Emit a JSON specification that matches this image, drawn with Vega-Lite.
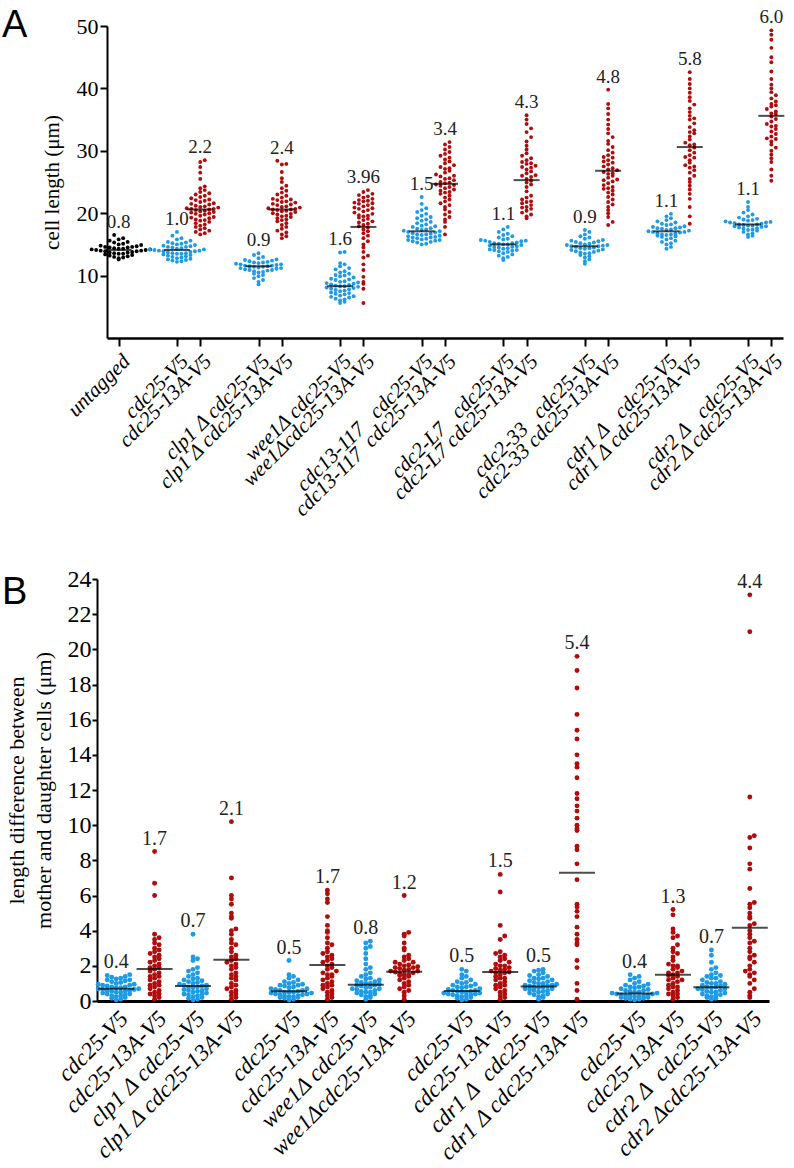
{
"$schema": "https://vega.github.io/schema/vega-lite/v6.json",
"background": "white",
"autosize": {"type": "pad"},
"padding": {"left": 2, "top": 7, "right": 5, "bottom": 5},
"spacing": 241,
"bounds": "flush",
"config": {
  "view": {"stroke": null},
  "circle": {"opacity": 1},
  "axis": {"grid": false, "domainColor": "#000", "tickColor": "#000", "labelColor": "#000", "titleColor": "#000", "labelFont": "Liberation Serif", "titleFont": "Liberation Serif", "titleFontWeight": "normal", "labelOverlap": false, "labelLimit": 500}
},
"datasets": {
  "medA": [
    {"g":"a00","data":14.1},{"g":"a01","data":14.1},{"g":"a02","data":20.6},{"g":"a03","data":11.5},{"g":"a04","data":20.6},{"g":"a05","data":8.3},{"g":"a06","data":17.8},{"g":"a07","data":17.1},{"g":"a08","data":24.7},{"g":"a09","data":15.0},{"g":"a10","data":25.3},{"g":"a11","data":14.7},{"g":"a12","data":26.8},{"g":"a13","data":17.1},{"g":"a14","data":30.6},{"g":"a15","data":18.2},{"g":"a16","data":35.6}
  ],
  "labA": [
    {"g":"a00","r":"0.8","data":16.5},{"g":"a01","r":"1.0","data":17.0},{"g":"a02","r":"2.2","data":28.5},{"g":"a03","r":"0.9","data":13.6},{"g":"a04","r":"2.4","data":28.4},{"g":"a05","r":"1.6","data":13.8},{"g":"a06","r":"3.96","data":23.7},{"g":"a07","r":"1.5","data":22.6},{"g":"a08","r":"3.4","data":31.4},{"g":"a09","r":"1.1","data":17.8},{"g":"a10","r":"4.3","data":35.7},{"g":"a11","r":"0.9","data":17.3},{"g":"a12","r":"4.8","data":39.8},{"g":"a13","r":"1.1","data":19.9},{"g":"a14","r":"5.8","data":42.6},{"g":"a15","r":"1.1","data":21.8},{"g":"a16","r":"6.0","data":49.3}
  ],
  "medB": [
    {"g":"b00","data":0.7},{"g":"b01","data":1.82},{"g":"b02","data":0.85},{"g":"b03","data":2.35},{"g":"b04","data":0.55},{"g":"b05","data":2.05},{"g":"b06","data":0.93},{"g":"b07","data":1.67},{"g":"b08","data":0.57},{"g":"b09","data":1.65},{"g":"b10","data":0.82},{"g":"b11","data":7.3},{"g":"b12","data":0.42},{"g":"b13","data":1.5},{"g":"b14","data":0.78},{"g":"b15","data":4.17}
  ],
  "labB": [
    {"g":"b00","r":"0.4","data":1.5},{"g":"b01","r":"1.7","data":8.5},{"g":"b02","r":"0.7","data":3.8},{"g":"b03","r":"2.1","data":10.2},{"g":"b04","r":"0.5","data":2.3},{"g":"b05","r":"1.7","data":6.3},{"g":"b06","r":"0.8","data":3.4},{"g":"b07","r":"1.2","data":6.0},{"g":"b08","r":"0.5","data":1.8},{"g":"b09","r":"1.5","data":7.2},{"g":"b10","r":"0.5","data":1.8},{"g":"b11","r":"5.4","data":19.6},{"g":"b12","r":"0.4","data":1.5},{"g":"b13","r":"1.3","data":5.2},{"g":"b14","r":"0.7","data":2.9},{"g":"b15","r":"4.4","data":23.1}
  ]
},
"vconcat": [
{
  "width": 686, "height": 312,
  "title": {"text": "A", "anchor": "start", "frame": "group", "dx": -95, "dy": 67, "offset": 0, "baseline": "alphabetic", "font": "Liberation Sans", "fontSize": 38, "fontWeight": "normal", "color": "#000"},
  "encoding": {
    "x": {"field": "g", "type": "nominal",
      "scale": {"type": "point", "range": [10, 686], "padding": 1.42,
        "domain": ["a00","x1","x2","x3","x4","a01","x5","a02","x6","x7","x8","x9","a03","x10","a04","x11","x12","x13","x14","a05","x15","a06","x16","x17","x18","x19","a07","x20","a08","x21","x22","x23","x24","a09","x25","a10","x26","x27","x28","x29","a11","x30","a12","x31","x32","x33","x34","a13","x35","a14","x36","x37","x38","x39","a15","x40","a16"]},
      "axis": {"title": null, "values": ["a00","a01","a02","a03","a04","a05","a06","a07","a08","a09","a10","a11","a12","a13","a14","a15","a16"],
        "labelExpr": "['untagged','cdc25-V5','cdc25-13A-V5','clp1 Δ cdc25-V5','clp1 Δ cdc25-13A-V5','wee1Δ cdc25-V5','wee1Δcdc25-13A-V5','cdc13-117\u00a0\u00a0\u00a0cdc25-V5','cdc13-117\u00a0\u00a0cdc25-13A-V5','cdc2-L7\u00a0\u00a0\u00a0cdc25-V5','cdc2-L7 cdc25-13A-V5','cdc2-33\u00a0\u00a0\u00a0cdc25-V5','cdc2-33 cdc25-13A-V5','cdr1 Δ\u00a0\u00a0\u00a0cdc25-V5','cdr1 Δ cdc25-13A-V5','cdr2 Δ\u00a0\u00a0\u00a0cdc25-V5','cdr2 Δ cdc25-13A-V5'][toNumber(substring(datum.value,1))]",
        "labelAngle": -45, "labelAlign": "right", "labelBaseline": "top", "labelPadding": 4, "labelFontSize": 21, "labelFontStyle": "italic", "labelFont": "Liberation Serif", "labelLimit": 500,
        "tickSize": 8, "tickWidth": 2, "domainWidth": 2.5}},
    "y": {"field": "data", "type": "quantitative", "scale": {"domain": [0, 50], "nice": false},
      "axis": {"title": "cell length (μm)", "values": [10, 20, 30, 40, 50], "offset": -10, "tickSize": 7, "tickWidth": 2, "domainWidth": 2, "labelFont": "Liberation Serif", "labelFontSize": 22, "labelPadding": 2, "titleFont": "Liberation Serif", "titleFontSize": 21, "titlePadding": 14}},
    "xOffset": {"field": "o", "type": "quantitative", "scale": {"domain": [-10, 10], "range": [-45, 45]}},
    "size": {"value": 15}
  },
  "layer": [
    {"data": {"values": [16.5,16.0,15.8,15.6,15.4,15.3,15.1,15.0,14.9,14.8,14.7,14.6,14.5,14.5,14.4,14.3,14.2,14.2,14.1,14.1,14.0,14.0,13.9,13.9,13.8,13.7,13.7,13.6,13.5,13.5,13.4,13.3,13.2,13.1,13.0,12.9,12.8,12.6,14.6,14.3]},
     "transform": [{"calculate": "'a00'", "as": "g"}, {"bin": {"step": 0.75}, "field": "data", "as": "b"}, {"window": [{"op": "row_number", "as": "i"}], "groupby": ["b"], "sort": [{"field": "data"}]}, {"calculate": "(datum.i%2?-1:1)*floor(datum.i/2)", "as": "o"}],
     "mark": {"type": "circle", "color": "#000"}},
    {"data": {"values": [17.0,16.4,16.0,15.8,15.6,15.4,15.2,15.1,15.0,14.9,14.8,14.7,14.6,14.5,14.4,14.3,14.2,14.2,14.1,14.0,13.9,13.9,13.8,13.7,13.6,13.5,13.5,13.4,13.3,13.2,13.1,13.0,12.9,12.8,12.7,12.6,12.5,12.4,12.3,12.2,14.6,14.0,13.6,15.3]},
     "transform": [{"calculate": "'a01'", "as": "g"}, {"bin": {"step": 0.75}, "field": "data", "as": "b"}, {"window": [{"op": "row_number", "as": "i"}], "groupby": ["b"], "sort": [{"field": "data"}]}, {"calculate": "(datum.i%2?-1:1)*floor(datum.i/2)", "as": "o"}],
     "mark": {"type": "circle", "color": "#1E9BE6"}},
    {"data": {"values": [28.5,28.2,27.4,26.5,25.5,24.3,24.0,23.7,23.4,23.2,23.0,22.8,22.6,22.4,22.2,22.0,21.8,21.6,21.4,21.2,21.0,20.9,20.8,20.7,20.6,20.5,20.4,20.3,20.1,20.0,19.8,19.6,19.4,19.2,19.0,18.8,18.6,18.4,18.2,18.0,17.8,17.6,17.4,17.2,17.0,16.8,16.6,21.5,20.2,19.9,22.1,19.3,20.7,21.1,18.9]},
     "transform": [{"calculate": "'a02'", "as": "g"}, {"bin": {"step": 0.75}, "field": "data", "as": "b"}, {"window": [{"op": "row_number", "as": "i"}], "groupby": ["b"], "sort": [{"field": "data"}]}, {"calculate": "(datum.i%2?-1:1)*floor(datum.i/2)", "as": "o"}],
     "mark": {"type": "circle", "color": "#B00C0C"}},
    {"data": {"values": [13.6,13.3,13.0,12.8,12.6,12.5,12.4,12.3,12.2,12.1,12.0,11.9,11.8,11.7,11.6,11.6,11.5,11.5,11.4,11.3,11.2,11.1,11.0,10.9,10.8,10.7,10.6,10.5,10.3,10.1,9.9,9.6,9.3,9.0,8.6,11.4,11.8,12.1,10.9,11.2]},
     "transform": [{"calculate": "'a03'", "as": "g"}, {"bin": {"step": 0.75}, "field": "data", "as": "b"}, {"window": [{"op": "row_number", "as": "i"}], "groupby": ["b"], "sort": [{"field": "data"}]}, {"calculate": "(datum.i%2?-1:1)*floor(datum.i/2)", "as": "o"}],
     "mark": {"type": "circle", "color": "#1E9BE6"}},
    {"data": {"values": [28.4,27.9,27.8,26.6,25.6,25.0,24.4,24.0,23.6,23.3,23.0,22.8,22.5,22.3,22.1,21.9,21.7,21.5,21.3,21.1,21.0,20.9,20.8,20.7,20.6,20.5,20.4,20.2,20.0,19.8,19.6,19.4,19.2,19.0,18.7,18.4,18.1,17.8,17.5,17.2,16.9,16.6,16.3,16.0,21.4,20.3,19.9,22.2,20.6,21.8,19.5,18.9]},
     "transform": [{"calculate": "'a04'", "as": "g"}, {"bin": {"step": 0.75}, "field": "data", "as": "b"}, {"window": [{"op": "row_number", "as": "i"}], "groupby": ["b"], "sort": [{"field": "data"}]}, {"calculate": "(datum.i%2?-1:1)*floor(datum.i/2)", "as": "o"}],
     "mark": {"type": "circle", "color": "#B00C0C"}},
    {"data": {"values": [13.8,13.7,12.0,11.8,11.5,11.2,11.0,10.7,10.5,10.3,10.1,9.9,9.7,9.5,9.3,9.1,9.0,8.8,8.6,8.5,8.4,8.3,8.2,8.1,8.0,7.9,7.8,7.7,7.5,7.3,7.2,7.0,6.8,6.7,6.5,6.3,6.2,6.0,5.8,5.6,8.7,8.3,7.6,9.4,7.1,6.6,8.9,10.0]},
     "transform": [{"calculate": "'a05'", "as": "g"}, {"bin": {"step": 0.75}, "field": "data", "as": "b"}, {"window": [{"op": "row_number", "as": "i"}], "groupby": ["b"], "sort": [{"field": "data"}]}, {"calculate": "(datum.i%2?-1:1)*floor(datum.i/2)", "as": "o"}],
     "mark": {"type": "circle", "color": "#1E9BE6"}},
    {"data": {"values": [23.7,23.4,23.1,22.9,22.7,22.5,22.3,22.1,21.9,21.7,21.5,21.3,21.1,20.9,20.7,20.5,20.3,20.1,19.9,19.7,19.5,19.3,19.1,18.9,18.7,18.5,18.3,18.1,17.9,17.7,17.4,17.1,16.8,16.4,16.0,15.5,15.0,14.5,13.8,13.2,12.9,11.8,10.9,9.8,9.0,8.7,7.9,5.6,22.0,20.8,21.6,19.6]},
     "transform": [{"calculate": "'a06'", "as": "g"}, {"bin": {"step": 0.75}, "field": "data", "as": "b"}, {"window": [{"op": "row_number", "as": "i"}], "groupby": ["b"], "sort": [{"field": "data"}]}, {"calculate": "(datum.i%2?-1:1)*floor(datum.i/2)", "as": "o"}],
     "mark": {"type": "circle", "color": "#B00C0C"}},
    {"data": {"values": [22.6,21.5,20.8,20.5,20.2,19.9,19.6,19.4,19.2,19.0,18.8,18.6,18.4,18.2,18.0,17.8,17.6,17.4,17.3,17.2,17.1,17.0,16.9,16.8,16.7,16.6,16.5,16.4,16.3,16.2,16.1,16.0,15.9,15.8,15.7,15.6,15.5,15.4,15.3,15.1,15.0,17.5,16.6,16.1,17.9,15.7]},
     "transform": [{"calculate": "'a07'", "as": "g"}, {"bin": {"step": 0.75}, "field": "data", "as": "b"}, {"window": [{"op": "row_number", "as": "i"}], "groupby": ["b"], "sort": [{"field": "data"}]}, {"calculate": "(datum.i%2?-1:1)*floor(datum.i/2)", "as": "o"}],
     "mark": {"type": "circle", "color": "#1E9BE6"}},
    {"data": {"values": [31.4,31.0,30.6,30.2,29.8,29.5,29.2,28.9,28.6,28.3,28.0,27.7,27.4,27.1,26.8,26.5,26.2,25.9,25.6,25.3,25.0,24.8,24.6,24.4,24.2,24.0,23.8,23.6,23.4,23.1,22.8,22.5,22.2,21.9,21.6,21.3,21.0,20.6,20.2,19.8,19.4,19.0,18.6,17.8,16.6,25.5,24.9,26.0,23.3,27.2,24.5]},
     "transform": [{"calculate": "'a08'", "as": "g"}, {"bin": {"step": 0.75}, "field": "data", "as": "b"}, {"window": [{"op": "row_number", "as": "i"}], "groupby": ["b"], "sort": [{"field": "data"}]}, {"calculate": "(datum.i%2?-1:1)*floor(datum.i/2)", "as": "o"}],
     "mark": {"type": "circle", "color": "#B00C0C"}},
    {"data": {"values": [17.8,17.4,17.0,16.7,16.5,16.3,16.1,15.9,15.8,15.7,15.6,15.5,15.4,15.3,15.2,15.1,15.0,15.0,14.9,14.8,14.7,14.6,14.5,14.4,14.3,14.2,14.1,14.0,13.9,13.8,13.6,13.4,13.2,13.0,12.8,12.5,15.2,14.6,15.6,14.1]},
     "transform": [{"calculate": "'a09'", "as": "g"}, {"bin": {"step": 0.75}, "field": "data", "as": "b"}, {"window": [{"op": "row_number", "as": "i"}], "groupby": ["b"], "sort": [{"field": "data"}]}, {"calculate": "(datum.i%2?-1:1)*floor(datum.i/2)", "as": "o"}],
     "mark": {"type": "circle", "color": "#1E9BE6"}},
    {"data": {"values": [35.7,35.0,34.3,33.6,33.0,32.2,31.5,30.8,30.2,29.6,29.2,28.8,28.5,28.2,27.9,27.6,27.3,27.0,26.7,26.4,26.1,25.8,25.5,25.2,24.9,24.6,24.2,23.5,22.8,22.5,22.2,21.9,21.6,21.3,21.0,20.7,20.4,20.1,19.8,19.5,19.2,28.0,26.0,21.8,20.9,27.4]},
     "transform": [{"calculate": "'a10'", "as": "g"}, {"bin": {"step": 0.75}, "field": "data", "as": "b"}, {"window": [{"op": "row_number", "as": "i"}], "groupby": ["b"], "sort": [{"field": "data"}]}, {"calculate": "(datum.i%2?-1:1)*floor(datum.i/2)", "as": "o"}],
     "mark": {"type": "circle", "color": "#B00C0C"}},
    {"data": {"values": [17.3,17.0,16.6,16.3,16.1,15.9,15.7,15.5,15.4,15.3,15.2,15.1,15.0,14.9,14.8,14.7,14.7,14.6,14.5,14.4,14.3,14.2,14.1,14.0,13.9,13.8,13.7,13.5,13.3,13.1,12.9,12.6,12.3,11.9,14.9,14.4,15.6,13.6]},
     "transform": [{"calculate": "'a11'", "as": "g"}, {"bin": {"step": 0.75}, "field": "data", "as": "b"}, {"window": [{"op": "row_number", "as": "i"}], "groupby": ["b"], "sort": [{"field": "data"}]}, {"calculate": "(datum.i%2?-1:1)*floor(datum.i/2)", "as": "o"}],
     "mark": {"type": "circle", "color": "#1E9BE6"}},
    {"data": {"values": [39.8,37.5,36.8,35.9,35.0,34.2,33.5,32.8,32.2,31.6,31.1,30.6,30.1,29.7,29.3,28.9,28.5,28.1,27.8,27.5,27.2,26.9,26.6,26.3,26.0,25.7,25.4,25.1,24.8,24.5,24.2,23.9,23.6,23.3,23.0,22.6,22.2,21.8,21.4,21.0,20.5,20.0,19.4,18.6,18.1,27.0,26.4,28.3,25.3,24.0,29.0]},
     "transform": [{"calculate": "'a12'", "as": "g"}, {"bin": {"step": 0.75}, "field": "data", "as": "b"}, {"window": [{"op": "row_number", "as": "i"}], "groupby": ["b"], "sort": [{"field": "data"}]}, {"calculate": "(datum.i%2?-1:1)*floor(datum.i/2)", "as": "o"}],
     "mark": {"type": "circle", "color": "#B00C0C"}},
    {"data": {"values": [19.9,19.5,19.2,18.9,18.7,18.5,18.3,18.1,17.9,17.8,17.7,17.6,17.5,17.4,17.3,17.2,17.1,17.0,16.9,16.8,16.7,16.6,16.5,16.4,16.3,16.2,16.0,15.8,15.6,15.4,15.2,15.0,14.6,14.3,17.0,17.6,16.6,18.2]},
     "transform": [{"calculate": "'a13'", "as": "g"}, {"bin": {"step": 0.75}, "field": "data", "as": "b"}, {"window": [{"op": "row_number", "as": "i"}], "groupby": ["b"], "sort": [{"field": "data"}]}, {"calculate": "(datum.i%2?-1:1)*floor(datum.i/2)", "as": "o"}],
     "mark": {"type": "circle", "color": "#1E9BE6"}},
    {"data": {"values": [42.6,41.5,40.7,40.0,39.3,38.6,38.0,37.4,36.8,36.2,35.6,35.0,34.4,33.8,33.3,32.8,32.3,31.8,31.3,30.9,30.5,30.1,29.7,29.3,28.9,28.5,28.1,27.7,27.3,26.9,26.5,26.0,25.5,25.0,24.4,23.8,23.1,22.3,21.0,19.5,18.3,31.0,33.0,29.0,35.2,27.5]},
     "transform": [{"calculate": "'a14'", "as": "g"}, {"bin": {"step": 0.75}, "field": "data", "as": "b"}, {"window": [{"op": "row_number", "as": "i"}], "groupby": ["b"], "sort": [{"field": "data"}]}, {"calculate": "(datum.i%2?-1:1)*floor(datum.i/2)", "as": "o"}],
     "mark": {"type": "circle", "color": "#B00C0C"}},
    {"data": {"values": [21.8,21.0,20.5,20.1,19.8,19.5,19.3,19.1,18.9,18.8,18.7,18.6,18.5,18.4,18.3,18.2,18.2,18.1,18.0,17.9,17.8,17.7,17.6,17.5,17.4,17.3,17.2,17.0,16.8,16.6,16.4,16.2,18.5,17.9,19.0,18.0]},
     "transform": [{"calculate": "'a15'", "as": "g"}, {"bin": {"step": 0.75}, "field": "data", "as": "b"}, {"window": [{"op": "row_number", "as": "i"}], "groupby": ["b"], "sort": [{"field": "data"}]}, {"calculate": "(datum.i%2?-1:1)*floor(datum.i/2)", "as": "o"}],
     "mark": {"type": "circle", "color": "#1E9BE6"}},
    {"data": {"values": [49.3,48.6,47.8,46.5,45.0,44.2,42.7,41.5,40.6,40.0,39.4,38.9,38.4,37.9,37.5,37.1,36.7,36.3,35.9,35.5,35.1,34.7,34.3,33.9,33.5,33.1,32.7,32.3,31.9,31.5,31.0,30.5,30.0,29.4,28.8,28.2,27.0,26.0,25.2,36.0,37.3,34.0,32.0]},
     "transform": [{"calculate": "'a16'", "as": "g"}, {"bin": {"step": 0.75}, "field": "data", "as": "b"}, {"window": [{"op": "row_number", "as": "i"}], "groupby": ["b"], "sort": [{"field": "data"}]}, {"calculate": "(datum.i%2?-1:1)*floor(datum.i/2)", "as": "o"}],
     "mark": {"type": "circle", "color": "#B00C0C"}},
    {"data": {"name": "medA"}, "mark": {"type": "tick", "color": "#000", "thickness": 2},
     "encoding": {"xOffset": {"value": 0}, "size": {"value": 26}}},
    {"data": {"name": "labA"}, "mark": {"type": "text", "font": "Liberation Serif", "color": "#222", "baseline": "middle", "dy": -13},
     "encoding": {"xOffset": {"value": 0}, "text": {"field": "r"}, "size": {"value": 19}}}
  ]
},
{
  "width": 672, "height": 422,
  "title": {"text": "B", "anchor": "start", "frame": "group", "dx": -95, "dy": 75, "offset": 0, "baseline": "alphabetic", "font": "Liberation Sans", "fontSize": 38, "fontWeight": "normal", "color": "#000"},
  "encoding": {
    "x": {"field": "g", "type": "nominal",
      "scale": {"type": "point", "padding": 1.55,
        "domain": ["b00","y1","b01","y2","b02","y3","b03","y4","y5","b04","y6","b05","y7","b06","y8","b07","y9","y10","b08","y11","b09","y12","b10","y13","b11","y14","y15","b12","y16","b13","y17","b14","y18","b15"]},
      "axis": {"title": null, "values": ["b00","b01","b02","b03","b04","b05","b06","b07","b08","b09","b10","b11","b12","b13","b14","b15"],
        "labelExpr": "['cdc25-V5','cdc25-13A-V5','clp1 Δ cdc25-V5','clp1 Δ cdc25-13A-V5','cdc25-V5','cdc25-13A-V5','wee1Δ cdc25-V5','wee1Δcdc25-13A-V5','cdc25-V5','cdc25-13A-V5','cdr1 Δ\u00a0\u00a0cdc25-V5','cdr1 Δ cdc25-13A-V5','cdc25-V5','cdc25-13A-V5','cdr2 Δ\u00a0\u00a0cdc25-V5','cdr2 Δcdc25-13A-V5'][toNumber(substring(datum.value,1))]",
        "labelAngle": -45, "labelAlign": "right", "labelBaseline": "top", "labelPadding": 6, "labelFontSize": 23, "labelFontStyle": "italic", "labelFont": "Liberation Serif", "labelLimit": 500,
        "ticks": false, "domainWidth": 3}},
    "y": {"field": "data", "type": "quantitative", "scale": {"domain": [0, 24], "nice": false},
      "axis": {"title": ["length difference between", "mother and daughter cells (μm)"], "values": [0,2,4,6,8,10,12,14,16,18,20,22,24], "tickSize": 5, "tickWidth": 2, "domainWidth": 2, "labelFont": "Liberation Serif", "labelFontSize": 24, "labelPadding": 1, "titleFont": "Liberation Serif", "titleFontSize": 22, "titleLineHeight": 27, "titlePadding": 12}},
    "xOffset": {"field": "o", "type": "quantitative", "scale": {"domain": [-10, 10], "range": [-55, 55]}},
    "size": {"value": 24}
  },
  "layer": [
    {"data": {"values": [1.5,1.45,1.4,1.35,1.3,1.25,1.2,1.15,1.1,1.05,1.0,0.95,0.9,0.9,0.85,0.8,0.8,0.75,0.75,0.7,0.7,0.65,0.65,0.6,0.6,0.55,0.5,0.5,0.45,0.4,0.4,0.35,0.3,0.25,0.2,0.15,0.1,0.05,1.2,0.95,0.55,0.3]},
     "transform": [{"calculate": "'b00'", "as": "g"}, {"bin": {"step": 0.25}, "field": "data", "as": "b"}, {"window": [{"op": "row_number", "as": "i"}], "groupby": ["b"], "sort": [{"field": "data"}]}, {"calculate": "(datum.i%2?-1:1)*floor(datum.i/2)", "as": "o"}],
     "mark": {"type": "circle", "color": "#1E9BE6"}},
    {"data": {"values": [8.5,6.7,6.0,3.8,3.6,3.5,3.3,3.2,3.0,2.9,2.8,2.7,2.5,2.4,2.3,2.2,2.1,2.0,1.9,1.8,1.7,1.6,1.5,1.4,1.3,1.2,1.1,1.0,0.9,0.8,0.7,0.6,0.5,0.4,0.3,0.2,0.1,2.6,1.9,1.4,0.9,0.4]},
     "transform": [{"calculate": "'b01'", "as": "g"}, {"bin": {"step": 0.25}, "field": "data", "as": "b"}, {"window": [{"op": "row_number", "as": "i"}], "groupby": ["b"], "sort": [{"field": "data"}]}, {"calculate": "(datum.i%2?-1:1)*floor(datum.i/2)", "as": "o"}],
     "mark": {"type": "circle", "color": "#B00C0C"}},
    {"data": {"values": [3.8,2.5,2.4,2.3,1.9,1.8,1.7,1.6,1.5,1.4,1.3,1.25,1.2,1.1,1.05,1.0,0.95,0.9,0.85,0.8,0.8,0.75,0.7,0.65,0.6,0.55,0.5,0.45,0.4,0.35,0.3,0.25,0.2,0.15,0.1,0.05,1.15,0.9,0.6,0.4]},
     "transform": [{"calculate": "'b02'", "as": "g"}, {"bin": {"step": 0.25}, "field": "data", "as": "b"}, {"window": [{"op": "row_number", "as": "i"}], "groupby": ["b"], "sort": [{"field": "data"}]}, {"calculate": "(datum.i%2?-1:1)*floor(datum.i/2)", "as": "o"}],
     "mark": {"type": "circle", "color": "#1E9BE6"}},
    {"data": {"values": [10.2,7.0,6.0,5.8,5.5,5.0,4.8,4.7,4.1,4.0,3.8,3.5,3.3,3.0,2.8,2.6,2.5,2.4,2.3,2.2,2.0,1.9,1.8,1.6,1.5,1.4,1.2,1.0,0.9,0.8,0.6,0.5,0.4,0.3,0.2,0.1,3.2,2.1,1.3,0.7]},
     "transform": [{"calculate": "'b03'", "as": "g"}, {"bin": {"step": 0.25}, "field": "data", "as": "b"}, {"window": [{"op": "row_number", "as": "i"}], "groupby": ["b"], "sort": [{"field": "data"}]}, {"calculate": "(datum.i%2?-1:1)*floor(datum.i/2)", "as": "o"}],
     "mark": {"type": "circle", "color": "#B00C0C"}},
    {"data": {"values": [2.3,1.5,1.4,1.3,1.2,1.1,1.0,0.95,0.9,0.85,0.8,0.75,0.7,0.65,0.6,0.6,0.55,0.5,0.5,0.45,0.45,0.4,0.4,0.35,0.3,0.3,0.25,0.2,0.2,0.15,0.1,0.05,0.7,0.5,0.35,0.9,0.25,1.05]},
     "transform": [{"calculate": "'b04'", "as": "g"}, {"bin": {"step": 0.25}, "field": "data", "as": "b"}, {"window": [{"op": "row_number", "as": "i"}], "groupby": ["b"], "sort": [{"field": "data"}]}, {"calculate": "(datum.i%2?-1:1)*floor(datum.i/2)", "as": "o"}],
     "mark": {"type": "circle", "color": "#1E9BE6"}},
    {"data": {"values": [6.3,6.1,5.8,5.6,4.8,4.3,4.0,3.6,3.3,3.2,3.0,2.8,2.7,2.5,2.4,2.3,2.2,2.1,2.0,1.9,1.8,1.7,1.6,1.5,1.4,1.3,1.2,1.1,1.0,0.9,0.8,0.7,0.6,0.5,0.4,0.3,0.2,0.1,2.6,1.5,3.9,0.9]},
     "transform": [{"calculate": "'b05'", "as": "g"}, {"bin": {"step": 0.25}, "field": "data", "as": "b"}, {"window": [{"op": "row_number", "as": "i"}], "groupby": ["b"], "sort": [{"field": "data"}]}, {"calculate": "(datum.i%2?-1:1)*floor(datum.i/2)", "as": "o"}],
     "mark": {"type": "circle", "color": "#B00C0C"}},
    {"data": {"values": [3.4,3.3,3.1,3.0,2.7,2.4,2.1,1.9,1.8,1.6,1.5,1.4,1.3,1.2,1.15,1.1,1.05,1.0,0.95,0.9,0.9,0.85,0.8,0.75,0.7,0.65,0.6,0.55,0.5,0.45,0.4,0.35,0.3,0.25,0.2,0.1,1.25,1.0,0.7,0.5]},
     "transform": [{"calculate": "'b06'", "as": "g"}, {"bin": {"step": 0.25}, "field": "data", "as": "b"}, {"window": [{"op": "row_number", "as": "i"}], "groupby": ["b"], "sort": [{"field": "data"}]}, {"calculate": "(datum.i%2?-1:1)*floor(datum.i/2)", "as": "o"}],
     "mark": {"type": "circle", "color": "#1E9BE6"}},
    {"data": {"values": [6.0,3.9,3.8,3.7,3.3,2.9,2.6,2.5,2.4,2.3,2.2,2.1,2.05,2.0,1.95,1.9,1.85,1.8,1.75,1.7,1.65,1.6,1.55,1.5,1.45,1.4,1.3,1.2,1.1,1.0,0.9,0.8,0.7,0.5,0.3,0.1,1.9,1.7,2.2,1.5,3.0,0.6]},
     "transform": [{"calculate": "'b07'", "as": "g"}, {"bin": {"step": 0.25}, "field": "data", "as": "b"}, {"window": [{"op": "row_number", "as": "i"}], "groupby": ["b"], "sort": [{"field": "data"}]}, {"calculate": "(datum.i%2?-1:1)*floor(datum.i/2)", "as": "o"}],
     "mark": {"type": "circle", "color": "#B00C0C"}},
    {"data": {"values": [1.8,1.7,1.5,1.4,1.3,1.2,1.1,1.0,0.95,0.9,0.85,0.8,0.75,0.7,0.65,0.6,0.55,0.55,0.5,0.5,0.45,0.4,0.4,0.35,0.3,0.3,0.25,0.2,0.15,0.1,0.05,0.6,0.45,0.35,0.8,1.05]},
     "transform": [{"calculate": "'b08'", "as": "g"}, {"bin": {"step": 0.25}, "field": "data", "as": "b"}, {"window": [{"op": "row_number", "as": "i"}], "groupby": ["b"], "sort": [{"field": "data"}]}, {"calculate": "(datum.i%2?-1:1)*floor(datum.i/2)", "as": "o"}],
     "mark": {"type": "circle", "color": "#1E9BE6"}},
    {"data": {"values": [7.2,6.2,4.3,3.7,3.5,2.7,2.6,2.5,2.4,2.3,2.2,2.1,2.0,1.9,1.85,1.8,1.75,1.7,1.65,1.6,1.5,1.4,1.3,1.2,1.1,1.0,0.9,0.8,0.7,0.6,0.5,0.4,0.3,0.2,0.1,2.0,1.6,1.3,0.9,2.8]},
     "transform": [{"calculate": "'b09'", "as": "g"}, {"bin": {"step": 0.25}, "field": "data", "as": "b"}, {"window": [{"op": "row_number", "as": "i"}], "groupby": ["b"], "sort": [{"field": "data"}]}, {"calculate": "(datum.i%2?-1:1)*floor(datum.i/2)", "as": "o"}],
     "mark": {"type": "circle", "color": "#B00C0C"}},
    {"data": {"values": [1.8,1.75,1.7,1.6,1.5,1.45,1.4,1.3,1.25,1.2,1.15,1.1,1.05,1.0,0.95,0.9,0.9,0.85,0.85,0.8,0.8,0.75,0.7,0.65,0.6,0.55,0.5,0.45,0.4,0.35,0.3,0.25,0.2,0.1,1.0,0.7,1.3,0.6]},
     "transform": [{"calculate": "'b10'", "as": "g"}, {"bin": {"step": 0.25}, "field": "data", "as": "b"}, {"window": [{"op": "row_number", "as": "i"}], "groupby": ["b"], "sort": [{"field": "data"}]}, {"calculate": "(datum.i%2?-1:1)*floor(datum.i/2)", "as": "o"}],
     "mark": {"type": "circle", "color": "#1E9BE6"}},
    {"data": {"values": [19.6,18.8,17.8,16.3,15.4,14.9,14.0,13.5,13.3,12.7,11.8,11.5,11.1,10.8,10.4,10.0,9.8,9.7,8.8,8.6,7.8,6.9,5.5,5.35,5.1,4.8,4.2,3.8,3.5,3.3,3.2,2.3,1.9,1.0,0.6,0.1]},
     "transform": [{"calculate": "'b11'", "as": "g"}, {"bin": {"step": 0.25}, "field": "data", "as": "b"}, {"window": [{"op": "row_number", "as": "i"}], "groupby": ["b"], "sort": [{"field": "data"}]}, {"calculate": "(datum.i%2?-1:1)*floor(datum.i/2)", "as": "o"}],
     "mark": {"type": "circle", "color": "#B00C0C"}},
    {"data": {"values": [1.5,1.4,1.3,1.2,1.1,1.0,0.95,0.9,0.85,0.8,0.75,0.7,0.65,0.6,0.55,0.5,0.45,0.45,0.4,0.4,0.35,0.35,0.3,0.3,0.25,0.25,0.2,0.2,0.15,0.1,0.1,0.05,0.5,0.3,0.6,0.15,0.8]},
     "transform": [{"calculate": "'b12'", "as": "g"}, {"bin": {"step": 0.25}, "field": "data", "as": "b"}, {"window": [{"op": "row_number", "as": "i"}], "groupby": ["b"], "sort": [{"field": "data"}]}, {"calculate": "(datum.i%2?-1:1)*floor(datum.i/2)", "as": "o"}],
     "mark": {"type": "circle", "color": "#1E9BE6"}},
    {"data": {"values": [5.2,4.9,4.1,3.9,3.7,3.6,3.2,3.0,2.7,2.5,2.3,2.1,2.0,1.9,1.8,1.7,1.6,1.5,1.45,1.4,1.3,1.2,1.1,1.0,0.9,0.8,0.7,0.6,0.5,0.4,0.3,0.2,0.1,1.6,1.2,2.0,0.8,2.8,0.4]},
     "transform": [{"calculate": "'b13'", "as": "g"}, {"bin": {"step": 0.25}, "field": "data", "as": "b"}, {"window": [{"op": "row_number", "as": "i"}], "groupby": ["b"], "sort": [{"field": "data"}]}, {"calculate": "(datum.i%2?-1:1)*floor(datum.i/2)", "as": "o"}],
     "mark": {"type": "circle", "color": "#B00C0C"}},
    {"data": {"values": [2.9,2.6,2.2,1.9,1.8,1.6,1.5,1.45,1.4,1.3,1.2,1.1,1.05,1.0,0.95,0.9,0.85,0.8,0.8,0.75,0.7,0.65,0.6,0.55,0.5,0.45,0.4,0.35,0.3,0.25,0.2,0.15,0.1,1.0,0.7,0.5,1.3,0.3]},
     "transform": [{"calculate": "'b14'", "as": "g"}, {"bin": {"step": 0.25}, "field": "data", "as": "b"}, {"window": [{"op": "row_number", "as": "i"}], "groupby": ["b"], "sort": [{"field": "data"}]}, {"calculate": "(datum.i%2?-1:1)*floor(datum.i/2)", "as": "o"}],
     "mark": {"type": "circle", "color": "#1E9BE6"}},
    {"data": {"values": [23.1,21.0,11.6,9.4,9.3,8.7,7.8,7.5,6.4,5.6,5.5,5.3,5.0,4.7,4.4,4.3,4.0,3.8,3.6,3.3,3.0,2.8,2.6,2.4,2.2,2.0,1.8,1.6,1.5,1.4,1.2,1.0,0.7,0.5,0.3,0.2,4.8,2.5,1.7,3.4]},
     "transform": [{"calculate": "'b15'", "as": "g"}, {"bin": {"step": 0.25}, "field": "data", "as": "b"}, {"window": [{"op": "row_number", "as": "i"}], "groupby": ["b"], "sort": [{"field": "data"}]}, {"calculate": "(datum.i%2?-1:1)*floor(datum.i/2)", "as": "o"}],
     "mark": {"type": "circle", "color": "#B00C0C"}},
    {"data": {"name": "medB"}, "mark": {"type": "tick", "color": "#000", "thickness": 2},
     "encoding": {"xOffset": {"value": 0}, "size": {"value": 36}}},
    {"data": {"name": "labB"}, "mark": {"type": "text", "font": "Liberation Serif", "color": "#222", "baseline": "middle", "dy": -13},
     "encoding": {"xOffset": {"value": 0}, "text": {"field": "r"}, "size": {"value": 20}}}
  ]
}
]
}
